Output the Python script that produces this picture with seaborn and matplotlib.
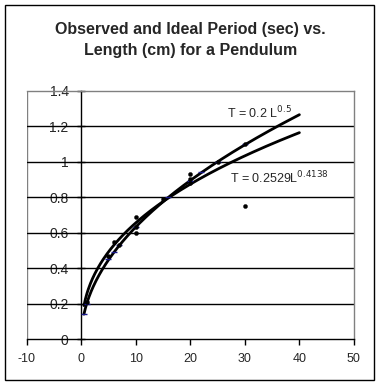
import numpy as np
import pandas as pd
import matplotlib.pyplot as plt
import seaborn as sns
from matplotlib.patches import Rectangle

# observed measurements (length cm, period sec)
obs_length = [1, 5, 6, 7, 10, 10, 10, 15, 20, 20, 20, 25, 30, 30]
obs_period = [0.21, 0.47, 0.55, 0.53, 0.69, 0.63, 0.60, 0.79, 0.93, 0.90, 0.88, 1.0, 1.1, 0.75]

# ideal period points
ideal_length = [0.5, 1, 5, 6, 7, 10, 16, 20, 22, 25, 30]
ideal_period = [0.14, 0.2, 0.45, 0.49, 0.53, 0.63, 0.80, 0.89, 0.94, 1.0, 1.1]

# trendline equations shown on the chart
ideal_coef, ideal_exp = 0.2, 0.5
fit_coef, fit_exp = 0.2529, 0.4138
trend_start, trend_end = 0.5, 40

y_ticks = [0, 0.2, 0.4, 0.6, 0.8, 1, 1.2, 1.4]
y_labels = ['0', '0.2', '0.4', '0.6', '0.8', '1', '1.2', '1.4']
x_ticks = [-10, 0, 10, 20, 30, 40, 50]

sns.set_style('white')
plt.rcParams['font.family'] = ['Liberation Sans', 'DejaVu Sans']

fig = plt.figure(figsize=(3.81, 3.86), dpi=100)
ax = fig.add_axes([0.070, 0.121, 0.859, 0.644])

# horizontal grid lines
for yv in y_ticks[1:-1]:
    ax.axhline(yv, color='black', lw=1, zorder=1)

L = np.linspace(trend_start, trend_end, 300)
trend = pd.DataFrame({'L': L,
                      'ideal': ideal_coef * L ** ideal_exp,
                      'fit': fit_coef * L ** fit_exp})
sns.lineplot(data=trend, x='L', y='ideal', color='black', lw=2, ax=ax, zorder=3)
sns.lineplot(data=trend, x='L', y='fit', color='black', lw=2, ax=ax, zorder=3)

sns.scatterplot(x=ideal_length, y=ideal_period, marker='_', color='#1a1a8c',
                s=25, linewidth=1, ax=ax, zorder=4)
sns.scatterplot(x=obs_length, y=obs_period, color='black', s=9,
                edgecolor='black', ax=ax, zorder=5)

ax.set_xlim(-10, 50)
ax.set_ylim(0, 1.4)
ax.set_xticks(x_ticks)
ax.set_xticklabels([str(v) for v in x_ticks], fontsize=9)
ax.set_yticks(y_ticks)
ax.set_yticklabels(y_labels, fontsize=9)
ax.set_xlabel('')
ax.set_ylabel('')

ax.spines['left'].set_position(('data', 0))
ax.spines['left'].set_color('black')
ax.spines['bottom'].set_color('black')
ax.spines['top'].set_color('#808080')
ax.spines['right'].set_color('#808080')
for s in ax.spines.values():
    s.set_linewidth(1)
ax.axvline(-10, color='#808080', lw=1, zorder=0)
ax.tick_params(axis='x', direction='out', length=4, width=1, color='black',
               bottom=True, pad=6)
ax.tick_params(axis='y', direction='inout', length=6, width=1, color='black',
               left=True, pad=6)

ax.text(26.7, 1.275, 'T = 0.2 L$^{0.5}$', fontsize=9, ha='left', va='center')
ax.text(27.2, 0.91, 'T = 0.2529L$^{0.4138}$', fontsize=9, ha='left', va='center')

fig.text(0.5, 0.942, 'Observed and Ideal Period (sec) vs.\nLength (cm) for a Pendulum',
         ha='center', va='top', fontsize=11.5, fontweight='bold', linespacing=1.45)

fig.add_artist(Rectangle((5 / 381, 6 / 386), 369 / 381, 375 / 386,
                         transform=fig.transFigure, fill=False,
                         edgecolor='black', lw=1))

fig.savefig('out.png', dpi=100)
